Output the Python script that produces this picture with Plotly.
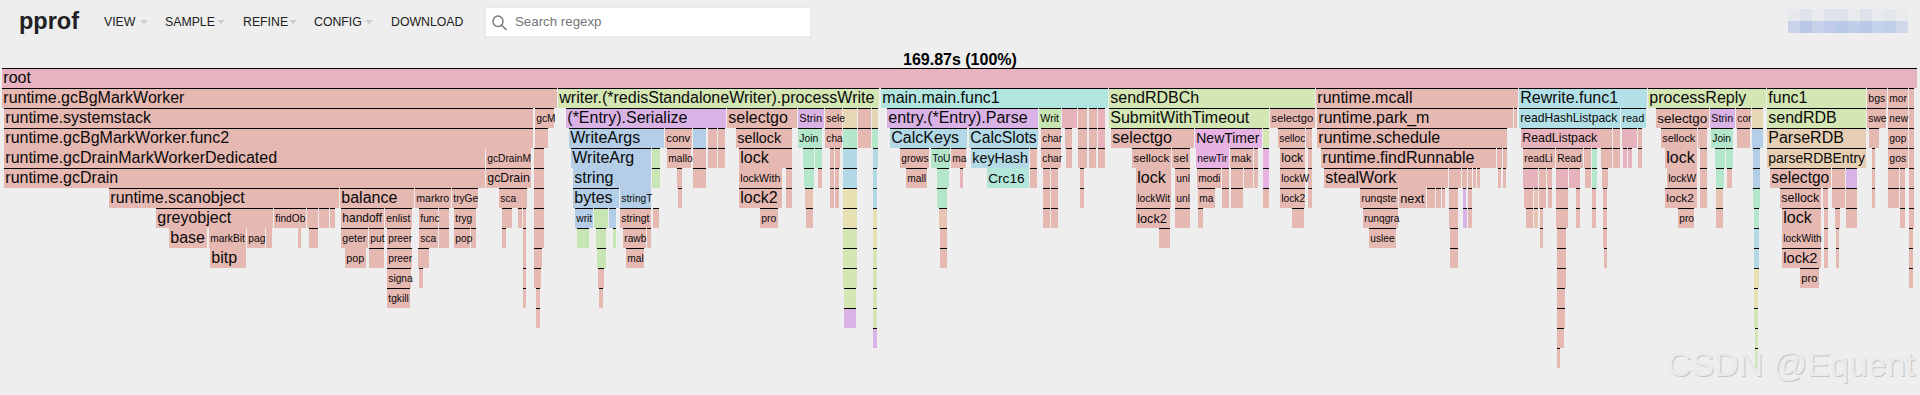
import plotly.graph_objects as go

# Flame graph frames, one list per stack depth: (start, end, name, group).
# Time runs on an axis of 1920 sample units across the page; group defaults to "r".
d00 = [(2, 1917, "root", "root")]
d01 = [(2, 557, "runtime.gcBgMarkWorker"), (558, 879, "writer.(*redisStandaloneWriter).processWrite", "g1"),
       (881, 1108, "main.main.func1", "c1"), (1109, 1315, "sendRDBCh", "g1"), (1316, 1518, "runtime.mcall"),
       (1519, 1647, "Rewrite.func1", "c2"), (1648, 1766, "processReply", "g1"), (1767, 1866, "func1", "g1"),
       (1867, 1887, "bgs"), (1888, 1908, "mor"), (1909, 1914, "")]
d02 = [(4, 533, "runtime.systemstack"), (535, 554, "gcM"), (566, 726, "(*Entry).Serialize", "v"),
       (727, 797, "selectgo"), (798, 824, "Strin", "v"), (825, 842, "sele"), (843, 857, "", "t"), (858, 871, ""),
       (872, 878, "", "t"), (887, 1038, "entry.(*Entry).Parse", "v"), (1039, 1061, "Writ", "g2"),
       (1062, 1077, "", "p"), (1078, 1087, ""), (1089, 1097, ""), (1098, 1105, "", "p"),
       (1109, 1269, "SubmitWithTimeout", "g1"), (1270, 1315, "selectgo"), (1317, 1513, "runtime.park_m"),
       (1514, 1517, ""), (1519, 1620, "readHashListpack", "c2"), (1621, 1646, "read", "c2"), (1656, 1709, "selectgo"),
       (1710, 1735, "Strin", "v"), (1736, 1751, "cor"), (1752, 1763, "", "t"), (1767, 1866, "sendRDB", "g1"),
       (1867, 1886, "swe"), (1888, 1908, "new"), (1909, 1914, "")]
d03 = [(4, 533, "runtime.gcBgMarkWorker.func2"), (535, 548, ""), (569, 664, "WriteArgs", "b"), (665, 692, "conv"),
       (693, 706, "", "b"), (708, 717, ""), (718, 725, ""), (736, 783, "sellock"), (783, 792, ""),
       (798, 822, "Join", "m"), (825, 842, "cha"), (843, 857, "", "m"), (858, 871, ""), (872, 878, "", "m"),
       (890, 967, "CalcKeys", "c3"), (969, 1038, "CalcSlots", "c3"), (1041, 1061, "char"), (1065, 1072, ""),
       (1078, 1087, ""), (1089, 1097, ""), (1098, 1105, "", "p"), (1111, 1194, "selectgo"),
       (1195, 1262, "NewTimer", "f"), (1263, 1269, "", "g1"), (1278, 1305, "selloc"), (1306, 1312, ""),
       (1317, 1507, "runtime.schedule"), (1521, 1600, "ReadListpack", "p"), (1600, 1612, ""), (1613, 1620, ""),
       (1622, 1637, "", "p"), (1638, 1642, ""), (1661, 1697, "sellock"), (1698, 1707, ""), (1711, 1733, "Join", "m"),
       (1737, 1750, ""), (1752, 1763, "", "b"), (1767, 1866, "ParseRDB", "t2"), (1869, 1879, ""), (1888, 1908, "gop"),
       (1909, 1914, "")]
d04 = [(4, 485, "runtime.gcDrainMarkWorkerDedicated"), (486, 531, "gcDrainM"), (534, 544, ""),
       (571, 651, "WriteArg", "b"), (652, 660, "", "g2"), (667, 691, "mallo"), (693, 706, ""), (708, 717, ""),
       (718, 725, ""), (739, 783, "lock"), (783, 792, ""), (803, 814, "", "m"), (815, 822, "", "m"), (830, 834, ""),
       (835, 840, ""), (843, 857, "", "c3"), (873, 878, "", "c3"), (900, 929, "grows"), (931, 950, "ToU", "m"),
       (951, 966, "ma"), (971, 1029, "keyHash", "c3"), (1030, 1037, ""), (1041, 1061, "char"), (1066, 1072, ""),
       (1078, 1087, ""), (1089, 1096, ""), (1098, 1105, ""), (1132, 1171, "sellock"), (1172, 1190, "sel"),
       (1196, 1229, "newTir", "f"), (1230, 1253, "mak"), (1254, 1258, ""), (1263, 1269, "", "f"), (1280, 1305, "lock"),
       (1308, 1312, ""), (1321, 1496, "runtime.findRunnable"), (1497, 1502, ""), (1503, 1507, ""),
       (1523, 1555, "readLi"), (1556, 1583, "Read"), (1584, 1591, ""), (1592, 1597, "", "m"), (1601, 1612, ""),
       (1613, 1620, ""), (1623, 1627, "", "p"), (1628, 1632, "", "p"), (1638, 1642, ""), (1665, 1697, "lock"),
       (1700, 1707, ""), (1715, 1725, "", "m"), (1726, 1733, "", "m"), (1753, 1760, "", "b"),
       (1767, 1866, "parseRDBEntry", "t2"), (1872, 1875, ""), (1888, 1908, "gos"), (1909, 1914, "")]
d05 = [(4, 485, "runtime.gcDrain"), (486, 531, "gcDrain"), (534, 544, ""), (573, 651, "string", "b"),
       (652, 660, "", "g2"), (677, 682, ""), (693, 706, ""), (739, 782, "lockWith"), (786, 792, ""),
       (804, 814, "", "m"), (818, 822, ""), (830, 834, ""), (835, 839, ""), (843, 857, "", "c3"), (873, 877, "", "c3"),
       (906, 927, "mall"), (937, 949, "", "m"), (960, 963, "", "p"), (987, 1029, "Crc16", "m2"), (1030, 1037, ""),
       (1043, 1050, ""), (1051, 1058, ""), (1080, 1084, ""), (1136, 1171, "lock"), (1175, 1190, "unl"),
       (1197, 1221, "modi"), (1222, 1229, ""), (1231, 1243, ""), (1244, 1253, ""), (1254, 1258, ""),
       (1263, 1269, "", "f"), (1280, 1305, "lockW"), (1308, 1312, ""), (1324, 1448, "stealWork"), (1449, 1461, ""),
       (1462, 1467, ""), (1468, 1472, ""), (1473, 1476, ""), (1477, 1480, ""), (1498, 1501, ""), (1503, 1506, ""),
       (1523, 1538, "", "p"), (1539, 1546, ""), (1547, 1552, ""), (1556, 1568, "", "p"), (1569, 1580, "", "p"),
       (1585, 1591, ""), (1592, 1597, "", "m"), (1602, 1608, ""), (1667, 1697, "lockW"), (1700, 1707, ""),
       (1716, 1724, "", "m"), (1727, 1732, ""), (1753, 1760, "", "b"), (1770, 1831, "selectgo"), (1832, 1845, ""),
       (1846, 1857, "", "v"), (1872, 1875, ""), (1888, 1899, ""), (1900, 1905, ""), (1909, 1914, "")]
d06 = [(109, 339, "runtime.scanobject"), (340, 414, "balance"), (415, 451, "markro"), (452, 478, "tryGe"),
       (499, 517, "sca"), (517, 527, ""), (534, 544, ""), (573, 619, "bytes", "b"), (620, 651, "stringT", "b"),
       (678, 682, ""), (739, 782, "lock2"), (786, 792, ""), (805, 813, "", "t3"), (830, 834, ""), (835, 839, ""),
       (843, 857, "", "y"), (873, 877, "", "c3"), (937, 947, "", "m"), (1043, 1050, ""), (1051, 1058, ""),
       (1080, 1084, ""), (1136, 1171, "lockWit"), (1175, 1190, "unl"), (1198, 1215, "ma"), (1222, 1229, ""),
       (1231, 1243, ""), (1263, 1269, ""), (1280, 1305, "lock2"), (1308, 1312, ""), (1360, 1398, "runqste"),
       (1399, 1426, "next"), (1427, 1435, ""), (1436, 1441, ""), (1442, 1445, ""), (1449, 1458, ""),
       (1463, 1466, "", "v"), (1468, 1472, ""), (1524, 1533, ""), (1534, 1538, "", "t3"), (1539, 1546, ""),
       (1548, 1552, ""), (1556, 1568, ""), (1576, 1580, ""), (1592, 1596, ""), (1603, 1607, ""),
       (1665, 1697, "lock2"), (1700, 1707, ""), (1716, 1723, "", "t3"), (1753, 1760, "", "m"), (1780, 1821, "sellock"),
       (1823, 1828, ""), (1832, 1845, ""), (1846, 1857, ""), (1872, 1875, ""), (1888, 1899, ""), (1900, 1905, ""),
       (1909, 1914, "")]
d07 = [(156, 273, "greyobject"), (274, 306, "findOb"), (307, 318, ""), (319, 329, ""), (330, 335, ""),
       (341, 384, "handoff"), (385, 412, "enlist"), (419, 438, "func"), (439, 449, ""), (454, 471, "tryg"),
       (471, 476, ""), (502, 512, ""), (518, 522, ""), (523, 526, ""), (534, 544, ""), (575, 593, "writ", "b"),
       (594, 608, "", "g2"), (609, 616, "", "b"), (620, 651, "stringt"), (653, 659, ""), (760, 778, "pro"),
       (806, 813, ""), (843, 857, "", "y"), (873, 877, "", "y"), (939, 947, "", "t3"), (1043, 1050, ""),
       (1051, 1058, ""), (1136, 1170, "lock2"), (1175, 1190, ""), (1198, 1203, ""), (1292, 1304, ""),
       (1363, 1398, "runqgra"), (1449, 1458, ""), (1463, 1467, "", "v"), (1468, 1472, ""), (1526, 1533, ""),
       (1534, 1538, "", "t3"), (1540, 1543, ""), (1556, 1568, ""), (1576, 1580, ""), (1592, 1596, ""), (1603, 1607, ""),
       (1678, 1694, "pro"), (1716, 1723, ""), (1754, 1759, "", "m"), (1782, 1821, "lock"), (1824, 1828, ""),
       (1835, 1840, ""), (1846, 1857, ""), (1900, 1905, ""), (1909, 1914, "")]
d08 = [(169, 207, "base"), (209, 246, "markBit"), (247, 265, "pag"), (266, 272, ""), (298, 301, ""), (309, 318, ""),
       (341, 368, "geter"), (369, 384, "put"), (387, 411, "preer"), (419, 438, "sca"), (439, 449, ""), (454, 470, "pop"),
       (471, 476, ""), (502, 506, ""), (523, 526, ""), (534, 544, ""), (577, 589, "", "g2"), (596, 606, "", "g2"),
       (613, 616, "", "g2"), (623, 646, "rawb"), (647, 651, ""), (843, 857, "", "g1"), (873, 877, "", "y"),
       (940, 947, ""), (1159, 1170, ""), (1369, 1396, "uslee"), (1450, 1458, ""), (1540, 1543, ""), (1557, 1566, ""),
       (1603, 1607, ""), (1754, 1759, "", "c3"), (1782, 1821, "lockWith"), (1824, 1828, ""), (1836, 1839, ""),
       (1909, 1913, "")]
d09 = [(210, 246, "bitp"), (345, 366, "pop"), (369, 384, ""), (387, 412, "preer"), (418, 429, ""), (523, 526, ""),
       (534, 542, ""), (597, 606, "", "g2"), (626, 644, "mal"), (843, 857, "", "g1"), (873, 877, "", "g1"),
       (940, 947, ""), (1450, 1458, ""), (1557, 1566, ""), (1604, 1607, ""), (1754, 1759, "", "c3"),
       (1782, 1821, "lock2"), (1824, 1828, ""), (1836, 1839, ""), (1909, 1913, "")]
d10 = [(387, 411, "signa"), (419, 423, ""), (523, 526, ""), (534, 541, ""), (598, 604, ""), (843, 857, "", "g1"),
       (873, 877, "", "g1"), (1557, 1566, ""), (1754, 1759, "", "y"), (1800, 1819, "pro"), (1909, 1913, "")]
d11 = [(387, 410, "tgkill"), (523, 526, ""), (536, 540, ""), (599, 603, ""), (844, 856, "", "g1"),
       (873, 877, "", "g1"), (1557, 1565, ""), (1754, 1758, "", "y")]
d12 = [(536, 540, ""), (844, 856, "", "v"), (873, 877, "", "g1"), (1557, 1565, ""), (1754, 1758, "", "g1")]
d13 = [(873, 877, "", "v"), (1557, 1564, ""), (1755, 1758, "", "g1")]
d14 = [(1557, 1560, ""), (1755, 1758, "", "g1")]
depth_rows = [d00, d01, d02, d03, d04, d05, d06, d07, d08, d09, d10, d11, d12, d13, d14]

# (depth, start) of frames whose top edge carries no dark rule in the picture
no_rule = {(4, 4), (4, 486), (5, 573), (5, 739), (5, 987), (5, 1136), (6, 620), (6, 1136), (6, 1175),
           (8, 169), (8, 209), (8, 247), (8, 266), (8, 298), (9, 210), (9, 345), (9, 523), (5, 1667), (4, 1665),
           (8, 1782), (6, 1399), (4, 1196)}

title_text = "169.87s (100%)"
menu_labels = ["VIEW", "SAMPLE", "REFINE", "CONFIG", "DOWNLOAD"]
menu_x = [102.5, 163.5, 241.5, 312.5, 389.5]
menu_arrow_x = [140, 217, 289, 365]
mosaic_top = ["#e6e8ee", "#e0e3ec", "#e9ebef", "#dfe3ec", "#dfe3ec", "#e8eaee", "#dee1eb", "#e8eaef", "#e4e7ee", "#e9ebed"]
mosaic_bottom = ["#c9d3e9", "#bac8e6", "#c5d1e8", "#bfcbe8", "#b9c9e8", "#c0cee9", "#bbc8e6", "#c3d1ea", "#c1cfe9", "#d0d8ea"]

GROUP_COLORS = {"root": "#e6b3bf", "r": "#e6b8b2", "p": "#e6b3bc", "g1": "#d3e6b3", "g2": "#c8e6b3", "c1": "#b3e5e0",
                "c2": "#b3e0e6", "c3": "#b3d8e6", "v": "#dab3e6", "f": "#e6b3e2", "b": "#b3cee6", "m": "#b3e6ca",
                "m2": "#b3e6d8", "t": "#e6d6b3", "t2": "#e6ceb3", "t3": "#e6c6b3", "y": "#e6e0b3"}
BG = "#eeeeee"
W, H = 1920, 395
ROOT_TOP = 68
ROW = 20
FONT = "Liberation Sans"

EM = {'a': .556, 'b': .556, 'c': .5, 'd': .556, 'e': .556, 'f': .278, 'g': .556, 'h': .556, 'i': .222, 'j': .222,
      'k': .5, 'l': .222, 'm': .833, 'n': .556, 'o': .556, 'p': .556, 'q': .556, 'r': .333, 's': .5, 't': .278,
      'u': .556, 'v': .5, 'w': .722, 'x': .5, 'y': .5, 'z': .5, '.': .278, '(': .333, ')': .333, '*': .389, '_': .556,
      'W': .944, 'M': .833}


def fit_size(name, span):
    em = sum(EM.get(c, .68) for c in name)
    return max(10.2, min(16.0, (span - 3) / em))


bar_y, bar_base, bar_w, bar_c = [], [], [], []
rule_y, rule_base, rule_w = [], [], []
txt_x, txt_y, txt, txt_s = [], [], [], []
for depth, row in enumerate(depth_rows):
    for frame in row:
        start, end, name = frame[:3]
        group = frame[3] if len(frame) > 3 else "r"
        bar_y.append(depth); bar_base.append(start); bar_w.append(end - start); bar_c.append(GROUP_COLORS[group])
        if (depth, start) not in no_rule:
            rule_y.append(depth); rule_base.append(start); rule_w.append(end - start)
        if name:
            txt_x.append(start + 1.3); txt_y.append(depth + 0.57); txt.append(name)
            txt_s.append(fit_size(name, end - start))

fig = go.Figure()
fig.add_trace(go.Bar(orientation="h", y=bar_y, x=bar_w, base=bar_base, offset=0, width=1,
                     marker=dict(color=bar_c, line=dict(width=0)), hoverinfo="skip"))
fig.add_trace(go.Bar(orientation="h", y=rule_y, x=rule_w, base=rule_base, offset=0, width=1 / ROW,
                     marker=dict(color="#000000", line=dict(width=0)), hoverinfo="skip"))
fig.add_trace(go.Scatter(x=txt_x, y=txt_y, text=txt, mode="text", textposition="middle right",
                         textfont=dict(family=FONT, size=txt_s, color="#0a0a0a"), hoverinfo="skip", cliponaxis=True))


def px(x): return x / W
def py(y): return 1 - y / H


def label(x, y, text, size, color, anchor="left", bold=False):
    if bold:
        text = "<b>" + text + "</b>"
    return dict(x=px(x), y=py(y), xref="paper", yref="paper", text=text, showarrow=False, xanchor=anchor,
                yanchor="middle", xshift=0, font=dict(family=FONT, size=size, color=color), borderpad=0)


ann = [label(17.5, 21, "pprof", 23.5, "#212121", bold=True),
       label(960, 59.5, title_text, 16, "#000000", anchor="center", bold=True),
       label(514, 22, "Search regexp", 13.3, "#757575")]
for x, t in zip(menu_x, menu_labels):
    ann.append(label(x, 22.5, t, 12.3, "#212121"))
ann.append(label(1667, 364.5, "CSDN @Equent", 34, "#c6c6c6"))
ann.append(label(1666, 363.5, "CSDN @Equent", 34, "#ebebeb"))

shapes = []
for x in menu_arrow_x:
    shapes.append(dict(type="path", xref="paper", yref="paper", line=dict(width=0), fillcolor="#cccccc",
                       path=f"M {px(x)} {py(20)} L {px(x + 8)} {py(20)} L {px(x + 4)} {py(24)} Z"))
shapes.append(dict(type="rect", xref="paper", yref="paper", x0=px(485), x1=px(811), y0=py(7), y1=py(37),
                   fillcolor="#ffffff", line=dict(color="#dddddd", width=1), layer="below"))
shapes.append(dict(type="circle", xref="paper", yref="paper", x0=px(493), x1=px(503), y0=py(16), y1=py(26.5),
                   line=dict(color="#777777", width=1.4), fillcolor="rgba(0,0,0,0)"))
shapes.append(dict(type="line", xref="paper", yref="paper", x0=px(501.5), x1=px(506.5), y0=py(25), y1=py(30),
                   line=dict(color="#777777", width=1.6)))
for i, (a, b) in enumerate(zip(mosaic_top, mosaic_bottom)):
    x0 = 1788 + 12 * i
    shapes.append(dict(type="rect", xref="paper", yref="paper", x0=px(x0), x1=px(x0 + 12), y0=py(9), y1=py(21),
                       fillcolor=a, line=dict(width=0)))
    shapes.append(dict(type="rect", xref="paper", yref="paper", x0=px(x0), x1=px(x0 + 12), y0=py(21), y1=py(33),
                       fillcolor=b, line=dict(width=0)))

fig.update_layout(
    width=W, height=H, margin=dict(l=0, r=0, t=0, b=0, pad=0), paper_bgcolor=BG, plot_bgcolor=BG,
    showlegend=False, barmode="overlay", bargap=0, annotations=ann, shapes=shapes,
    xaxis=dict(range=[0, W], visible=False, fixedrange=True),
    yaxis=dict(range=[(H - ROOT_TOP) / ROW, -ROOT_TOP / ROW], visible=False, fixedrange=True),
)
fig.write_html("out.html", config={"displayModeBar": False},
               post_script="document.body.style.margin='0';document.body.style.background='#eeeeee';document.body.style.overflow='hidden';")
